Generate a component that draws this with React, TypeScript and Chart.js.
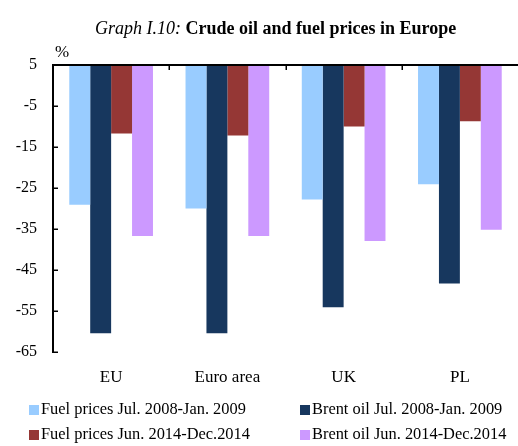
import React, { useEffect, useRef } from 'react';
import { Chart, registerables } from 'chart.js';
Chart.register(...registerables);

const categories = ['EU', 'Euro area', 'UK', 'PL'];
const fuelJul08Jan09 = [-29.1, -30.0, -27.8, -24.1];
const brentJul08Jan09 = [-60.4, -60.4, -54.1, -48.3];
const fuelJun14Dec14 = [-11.7, -12.2, -10.0, -8.7];
const brentJun14Dec14 = [-36.7, -36.7, -37.9, -35.2];
const seriesLabels = [
  'Fuel prices Jul. 2008-Jan. 2009',
  'Brent oil Jul. 2008-Jan. 2009',
  'Fuel prices Jun. 2014-Dec.2014',
  'Brent oil Jun. 2014-Dec.2014',
];
const seriesColors = ['#99CCFF', '#17375E', '#953735', '#CC99FF'];
const yTickValues = [5, -5, -15, -25, -35, -45, -55, -65];
const yMin = -65;
const yMax = 5;

const FONT = '"Liberation Serif", "Times New Roman", serif';

const axesPlugin = {
  id: 'insideAxes',
  afterDatasetsDraw(chart: any) {
    const { ctx, chartArea, scales } = chart;
    const x = scales.x;
    const y = scales.y;
    ctx.save();
    ctx.strokeStyle = '#000';
    ctx.lineWidth = 2;
    const top = y.getPixelForValue(yMax);
    const bottom = y.getPixelForValue(yMin);
    ctx.beginPath();
    ctx.moveTo(chartArea.left - 1, top);
    ctx.lineTo(chartArea.right + 2, top);
    ctx.stroke();
    ctx.beginPath();
    ctx.moveTo(chartArea.left, top);
    ctx.lineTo(chartArea.left, bottom + 1);
    ctx.stroke();
    ctx.lineWidth = 1.5;
    yTickValues.forEach((v) => {
      const py = Math.round(y.getPixelForValue(v)) + 0.25;
      ctx.beginPath();
      ctx.moveTo(chartArea.left, py);
      ctx.lineTo(chartArea.left + 5, py);
      ctx.stroke();
    });
    const half = (x.getPixelForValue(1) - x.getPixelForValue(0)) / 2;
    for (let i = 1; i < categories.length; i++) {
      const px = Math.round(x.getPixelForValue(i) - half) + 0.25;
      ctx.beginPath();
      ctx.moveTo(px, top);
      ctx.lineTo(px, top + 5);
      ctx.stroke();
    }
    ctx.restore();
  },
};

export default function App() {
  const canvasRef = useRef<HTMLCanvasElement | null>(null);

  useEffect(() => {
    const canvas = canvasRef.current;
    if (!canvas) return;
    const dataArrays = [fuelJul08Jan09, brentJul08Jan09, fuelJun14Dec14, brentJun14Dec14];
    const chart = new Chart(canvas, {
      type: 'bar',
      data: {
        labels: categories,
        datasets: dataArrays.map((d, i) => ({
          label: seriesLabels[i],
          data: d,
          backgroundColor: seriesColors[i],
          borderWidth: 0,
          base: yMax,
          categoryPercentage: 0.72,
          barPercentage: 1.0,
        })),
      },
      options: {
        animation: false,
        responsive: false,
        maintainAspectRatio: false,
        layout: { padding: { top: 65, bottom: 54, left: 0, right: 0 } },
        plugins: {
          legend: { display: false },
          tooltip: { enabled: false },
          title: { display: false },
        },
        scales: {
          x: {
            position: 'bottom',
            grid: { display: false, drawTicks: false },
            border: { display: false },
            ticks: {
              color: '#000',
              font: { family: FONT, size: 17 },
              padding: 15,
              maxRotation: 0,
              autoSkip: false,
            },
            afterFit(scale: any) {
              scale.height = 40;
            },
          },
          y: {
            min: yMin,
            max: yMax,
            grid: { display: false, drawTicks: false },
            border: { display: false },
            ticks: {
              color: '#000',
              font: { family: FONT, size: 16 },
              padding: 16,
            },
            afterBuildTicks(scale: any) {
              scale.ticks = yTickValues.map((v) => ({ value: v }));
            },
            afterFit(scale: any) {
              scale.width = 53;
            },
          },
        },
      },
      plugins: [axesPlugin],
    });
    return () => chart.destroy();
  }, []);

  const legendPos = [
    { left: 29, top: 409 },
    { left: 300, top: 409 },
    { left: 29, top: 434 },
    { left: 300, top: 434 },
  ];

  return (
    <div style={{ position: 'fixed', left: 0, top: 0, width: 518, height: 446, background: '#fff', fontFamily: FONT, color: '#000' }}>
      <canvas ref={canvasRef} width={518} height={446} style={{ position: 'absolute', left: 0, top: 0, width: 518, height: 446 }} />
      <div style={{ position: 'absolute', left: 95, top: 17, fontSize: 18, lineHeight: '22px', whiteSpace: 'nowrap' }}>
        <i>Graph I.10:</i> <b>Crude oil and fuel prices in Europe</b>
      </div>
      <div style={{ position: 'absolute', left: 55, top: 42, fontSize: 17, lineHeight: '20px' }}>%</div>
      {seriesLabels.map((label, i) => (
        <div
          key={label}
          style={{
            position: 'absolute',
            left: legendPos[i].left,
            top: legendPos[i].top - 10,
            height: 20,
            display: 'flex',
            alignItems: 'center',
            fontSize: 16.4,
            lineHeight: '20px',
            whiteSpace: 'nowrap',
          }}
        >
          <span style={{ display: 'inline-block', width: 10, height: 10, background: seriesColors[i], marginRight: 2, marginTop: 2 }} />
          <span>{label}</span>
        </div>
      ))}
    </div>
  );
}
